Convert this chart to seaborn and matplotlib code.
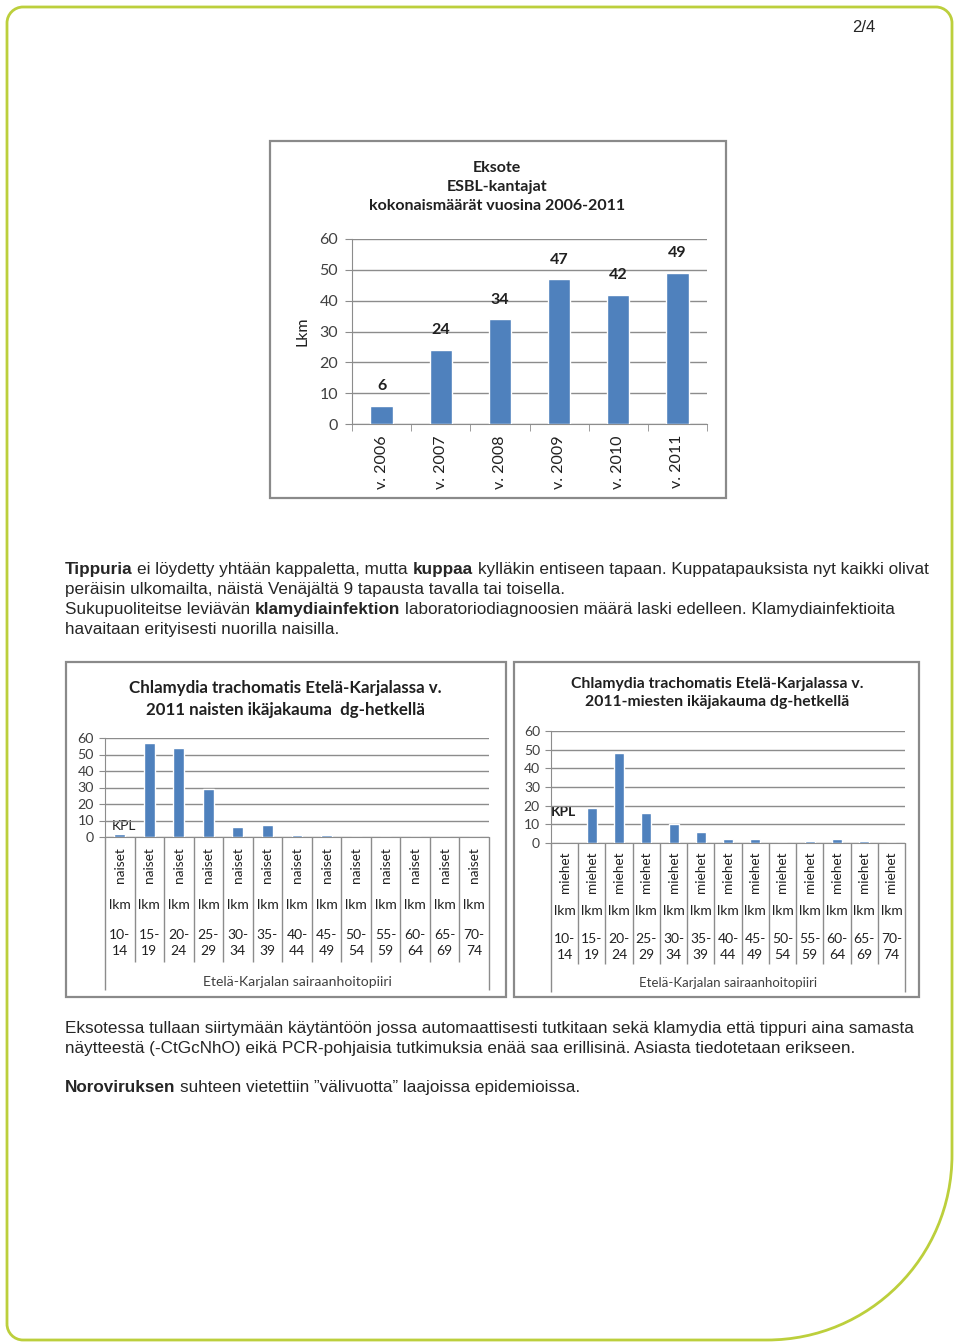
import numpy as np
import pandas as pd
import matplotlib
matplotlib.use("Agg")
import matplotlib.pyplot as plt
from matplotlib.path import Path
from matplotlib.patches import PathPatch, Rectangle
import seaborn as sns

# ---------------- data ----------------
esbl_years = ["v. 2006", "v. 2007", "v. 2008", "v. 2009", "v. 2010", "v. 2011"]
esbl_counts = [6, 24, 34, 47, 42, 49]

age_groups = ["10-\n14", "15-\n19", "20-\n24", "25-\n29", "30-\n34", "35-\n39", "40-\n44",
              "45-\n49", "50-\n54", "55-\n59", "60-\n64", "65-\n69", "70-\n74"]
women_counts = [2, 57, 54, 29, 6, 7, 1, 1, 0, 0, 0, 0, 0]
men_counts = [0, 19, 48, 16, 10, 6, 2, 2, 0, 1, 2, 1, 0]

esbl_title = "Eksote\nESBL-kantajat\nkokonaismäärät vuosina 2006-2011"
women_title = "Chlamydia trachomatis Etelä-Karjalassa v.\n2011 naisten ikäjakauma  dg-hetkellä"
men_title = "Chlamydia trachomatis Etelä-Karjalassa v.\n2011-miesten ikäjakauma dg-hetkellä"
region_label = "Etelä-Karjalan sairaanhoitopiiri"

# ---------------- setup ----------------
sns.set_style("white")
plt.rcParams["font.family"] = ["Lato", "DejaVu Sans"]

W, H = 960, 1344
fig = plt.figure(figsize=(W / 100, H / 100), dpi=100)
fig.patch.set_facecolor("white")

bg = fig.add_axes([0, 0, 1, 1])
bg.set_xlim(0, W)
bg.set_ylim(H, 0)
bg.axis("off")

BAR = "#4f81bd"
GRID = "#8c8c8c"
BORDER = "#bccf3c"
TICKC = "#404040"
PAGEFONT = ["Liberation Sans", "DejaVu Sans"]


def px_axes(x0, y0, x1, y1):
    return fig.add_axes([x0 / W, 1 - y1 / H, (x1 - x0) / W, (y1 - y0) / H])


# ---------------- page border ----------------
L, T, R, B = 7, 7, 952, 1340
r1, rb = 16, 185
k = 0.5523
verts = [
    (L, B - r1),
    (L, T + r1),
    (L, T + r1 - k * r1), (L + r1 - k * r1, T), (L + r1, T),
    (R - r1, T),
    (R - r1 + k * r1, T), (R, T + r1 - k * r1), (R, T + r1),
    (R, B - rb),
    (R, B - rb + k * rb), (R - rb + k * rb, B), (R - rb, B),
    (L + r1, B),
    (L + r1 - k * r1, B), (L, B - r1 + k * r1), (L, B - r1),
]
codes = [Path.MOVETO, Path.LINETO,
         Path.CURVE4, Path.CURVE4, Path.CURVE4,
         Path.LINETO,
         Path.CURVE4, Path.CURVE4, Path.CURVE4,
         Path.LINETO,
         Path.CURVE4, Path.CURVE4, Path.CURVE4,
         Path.LINETO,
         Path.CURVE4, Path.CURVE4, Path.CURVE4]
bg.add_patch(PathPatch(Path(verts, codes), fill=False, edgecolor=BORDER, lw=2))

bg.text(875, 32, "2/4", fontsize=12, family=PAGEFONT, ha="right", va="baseline")

# ---------------- chart frames ----------------
for (x0, y0, x1, y1) in [(270, 141, 726, 498), (66, 662, 506, 997), (514, 662, 919, 997)]:
    bg.add_patch(Rectangle((x0, y0), x1 - x0, y1 - y0, fill=False, edgecolor="#8a8a8a", lw=1.6))

# ---------------- paragraph text ----------------
renderer = fig.canvas.get_renderer()
PSIZE = 12.35


def text_width(s, bold):
    t = bg.text(0, 0, s, fontsize=PSIZE, family=PAGEFONT, fontweight="bold" if bold else "normal")
    w = t.get_window_extent(renderer=renderer).width
    t.remove()
    return w


SPACE = text_width("a a", False) - text_width("aa", False)


def runs(x, y, parts):
    for s, bold in parts:
        lead = len(s) - len(s.lstrip(" "))
        trail = len(s) - len(s.rstrip(" "))
        x += lead * SPACE
        core = s.strip(" ")
        if core:
            t = bg.text(x, y, core, fontsize=PSIZE, family=PAGEFONT,
                        fontweight="bold" if bold else "normal", va="baseline", ha="left")
            x += t.get_window_extent(renderer=renderer).width
        x += trail * SPACE


LX = 65
runs(LX, 574, [("Tippuria", True), (" ei löydetty yhtään kappaletta, mutta ", False), ("kuppaa", True),
               (" kylläkin entiseen tapaan. Kuppatapauksista nyt kaikki olivat", False)])
runs(LX, 594, [("peräisin ulkomailta, näistä Venäjältä 9 tapausta tavalla tai toisella.", False)])
runs(LX, 614, [("Sukupuoliteitse leviävän ", False), ("klamydiainfektion", True),
               (" laboratoriodiagnoosien määrä laski edelleen. Klamydiainfektioita", False)])
runs(LX, 634, [("havaitaan erityisesti nuorilla naisilla.", False)])

runs(LX, 1033, [("Eksotessa tullaan siirtymään käytäntöön jossa automaattisesti tutkitaan sekä klamydia että tippuri aina samasta", False)])
runs(LX, 1053, [("näytteestä (-CtGcNhO) eikä PCR-pohjaisia tutkimuksia enää saa erillisinä. Asiasta tiedotetaan erikseen.", False)])
runs(LX, 1092, [("Noroviruksen", True), (" suhteen vietettiin ”välivuotta” laajoissa epidemioissa.", False)])

# ---------------- chart 1: ESBL ----------------
a1 = (352, 239, 707, 424)
ax1 = px_axes(*a1)
df1 = pd.DataFrame({"year": esbl_years, "count": esbl_counts})
sns.barplot(data=df1, x="year", y="count", color=BAR, saturation=1, width=0.38, ax=ax1, zorder=3)
ax1.set_ylim(0, 60)
ax1.set_xlim(-0.5, len(esbl_years) - 0.5)
ax1.set_yticks(range(0, 61, 10))
ax1.yaxis.grid(True, color=GRID, lw=1, zorder=0)
ax1.set_axisbelow(True)
for s in ["top", "right"]:
    ax1.spines[s].set_visible(False)
ax1.spines["left"].set_color(GRID)
ax1.spines["bottom"].set_color(GRID)
ax1.set_facecolor("none")
ax1.tick_params(axis="y", length=5, color=GRID, labelsize=11.5, labelcolor=TICKC, pad=5, left=True)
ax1.set_xticks(range(len(esbl_years)))
ax1.set_xticklabels(esbl_years, rotation=90, fontsize=11.5, color="#202020")
ax1.tick_params(axis="x", which="major", length=0, pad=8)
ax1.set_xticks(np.arange(-0.5, len(esbl_years)), minor=True)
ax1.tick_params(axis="x", which="minor", length=5, color=GRID, bottom=True)
ax1.set_xlabel("")
ax1.set_ylabel("Lkm", fontsize=11.5, color="#202020", labelpad=7)
for i, v in enumerate(esbl_counts):
    ax1.annotate(str(v), (i, v), xytext=(0, 9), textcoords="offset points",
                 ha="center", va="bottom", fontsize=11.5, fontweight="bold", color="#202020")
bg.text(497, 187, esbl_title, ha="center", va="center", fontsize=11.5, fontweight="bold",
        linespacing=1.45, color="#202020")


# ---------------- small charts ----------------
def small_chart(box, counts, sex_label, title, title_xy, title_size, kpl_xy, kpl_bold, rows, tick_size):
    x0, y0, x1, y1 = box
    ax = px_axes(x0, y0, x1, y1)
    n = len(age_groups)
    df = pd.DataFrame({"age": age_groups, "count": counts})
    sns.barplot(data=df, x="age", y="count", color=BAR, saturation=1, width=0.37, ax=ax, zorder=3)
    ax.set_ylim(0, 60)
    ax.set_xlim(-0.5, n - 0.5)
    ax.set_yticks(range(0, 61, 10))
    ax.yaxis.grid(True, color=GRID, lw=1, zorder=0)
    ax.set_axisbelow(True)
    for s in ["top", "right"]:
        ax.spines[s].set_visible(False)
    ax.spines["left"].set_color(GRID)
    ax.spines["bottom"].set_color(GRID)
    ax.set_facecolor("none")
    ax.tick_params(axis="y", length=4, color=GRID, labelsize=tick_size, labelcolor=TICKC, pad=4, left=True)
    ax.set_xticks([])
    ax.set_xlabel("")
    ax.set_ylabel("")
    hpx = y1 - y0

    def fy(py):
        return (y1 - py) / hpx

    tr = ax.get_xaxis_transform()
    ax.vlines(np.arange(0.5, n - 1), ymin=fy(rows["sep"]), ymax=0, transform=tr,
              clip_on=False, color=GRID, lw=1)
    ax.vlines([-0.5, n - 0.5], ymin=fy(rows["outer"]), ymax=0, transform=tr,
              clip_on=False, color=GRID, lw=1)
    for i, age in enumerate(age_groups):
        ax.text(i, fy(rows["sex"]), sex_label, rotation=90, ha="center", va="center",
                transform=tr, fontsize=9.8, color="#202020")
        ax.text(i, fy(rows["lkm"]), "lkm", ha="center", va="center",
                transform=tr, fontsize=10, color="#202020")
        ax.text(i, fy(rows["age"]), age, ha="center", va="center", linespacing=1.35,
                transform=tr, fontsize=10, color="#202020")
    ax.text((n - 1) / 2, fy(rows["region"]), region_label, ha="center", va="center",
            transform=tr, fontsize=rows["region_size"], color="#404040")
    bg.text(kpl_xy[0], kpl_xy[1], "KPL", ha="left", va="center", fontsize=10,
            fontweight="bold" if kpl_bold else "normal", color="#202020")
    bg.text(title_xy[0], title_xy[1], title, ha="center", va="center", fontsize=title_size,
            fontweight="bold", linespacing=1.4, color="#202020")
    return ax


small_chart((105, 738, 489, 837), women_counts, "naiset", women_title, (285, 699), 12.2,
            (112, 826), False,
            {"sep": 962, "outer": 990, "sex": 865, "lkm": 905, "age": 943, "region": 982,
             "region_size": 10.1}, 10.3)
small_chart((551, 731, 905, 843), men_counts, "miehet", men_title, (717, 693), 11.3,
            (551, 812), True,
            {"sep": 964, "outer": 992, "sex": 872, "lkm": 911, "age": 947, "region": 983,
             "region_size": 9.5}, 10)

fig.savefig("out.png", dpi=100, facecolor="white")
